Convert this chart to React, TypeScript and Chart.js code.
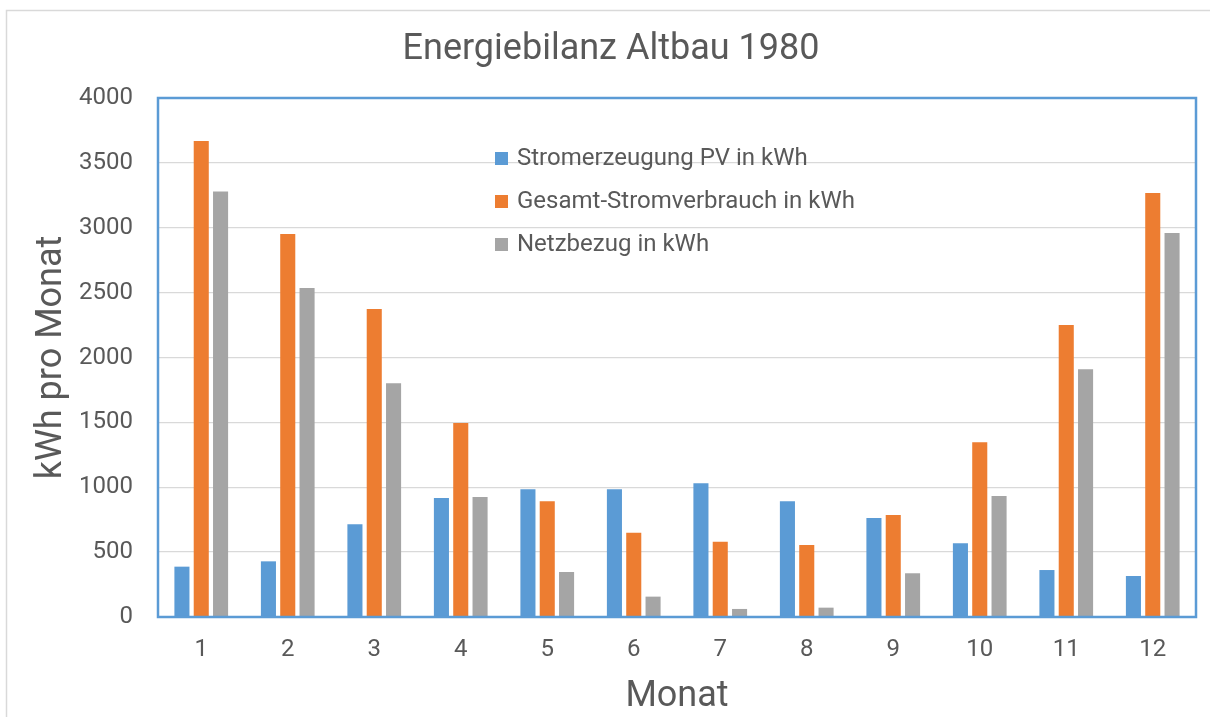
import React, { useEffect, useRef } from "react";
import { Chart, registerables } from "chart.js";

Chart.register(...registerables);

const months = ["1", "2", "3", "4", "5", "6", "7", "8", "9", "10", "11", "12"];
const pvGeneration = [388, 429, 714, 917, 985, 985, 1030, 892, 763, 568, 362, 316];
const totalConsumption = [3669, 2952, 2374, 1495, 892, 650, 580, 555, 786, 1346, 2250, 3268];
const gridPurchase = [3280, 2536, 1801, 925, 347, 157, 62, 72, 337, 932, 1909, 2960];
const seriesLabels = [
  "Stromerzeugung PV in kWh",
  "Gesamt-Stromverbrauch in kWh",
  "Netzbezug in kWh",
];
const seriesColors = ["#5b9bd5", "#ed7d31", "#a5a5a5"];
const chartTitle = "Energiebilanz Altbau 1980";
const yTitle = "kWh pro Monat";
const xTitle = "Monat";

const FONT = "Roboto, 'Open Sans', sans-serif";
const TEXT = "#595959";

const framePlugin = {
  id: "frameAndLegend",
  beforeDraw(chart: any) {
    const ctx = chart.ctx;
    ctx.save();
    ctx.fillStyle = "#ffffff";
    ctx.fillRect(0, 0, chart.width, chart.height);
    ctx.strokeStyle = "#d9d9d9";
    ctx.lineWidth = 1.5;
    ctx.strokeRect(6.5, 10.5, chart.width + 50, chart.height + 50);
    ctx.restore();
  },
  afterDatasetsDraw(chart: any) {
    const ctx = chart.ctx;
    const a = chart.chartArea;
    ctx.save();
    // plot-area frame
    ctx.strokeStyle = "#5b9bd5";
    ctx.lineWidth = 2.5;
    ctx.strokeRect(a.left, a.top, a.right - a.left, a.bottom - a.top);
    // legend inside plot area
    const x0 = a.left + 337;
    const base0 = a.top + 67;
    ctx.font = `24px ${FONT}`;
    ctx.textBaseline = "alphabetic";
    ctx.textAlign = "left";
    chart.data.datasets.forEach((ds: any, i: number) => {
      const by = base0 + i * 43;
      ctx.fillStyle = ds.backgroundColor;
      ctx.fillRect(x0, by - 13, 13, 13);
      ctx.fillStyle = TEXT;
      ctx.fillText(ds.label, x0 + 22, by);
    });
    ctx.restore();
  },
};

export default function App() {
  const ref = useRef<HTMLCanvasElement | null>(null);
  useEffect(() => {
    document.body.style.margin = "0";
    const canvas = ref.current!;
    const series = [pvGeneration, totalConsumption, gridPurchase];
    const chart = new Chart(canvas, {
      type: "bar",
      data: {
        labels: months,
        datasets: series.map((d, i) => ({
          label: seriesLabels[i],
          data: d,
          backgroundColor: seriesColors[i],
          borderWidth: 0,
          categoryPercentage: 0.67,
          barPercentage: 0.78,
        })),
      },
      options: {
        responsive: false,
        animation: false,
        layout: { padding: { left: 26, right: 14, top: 0, bottom: 0 } },
        plugins: {
          legend: { display: false },
          tooltip: { enabled: false },
          title: {
            display: true,
            text: chartTitle,
            color: TEXT,
            font: { family: FONT, size: 36, weight: "normal", lineHeight: 1.2 },
            padding: { top: 28, bottom: 26.8 },
          },
        },
        scales: {
          x: {
            grid: { display: false, drawTicks: false },
            border: { display: false },
            ticks: {
              color: TEXT,
              font: { family: FONT, size: 24, lineHeight: 1.2 },
              padding: 19,
            },
            title: {
              display: true,
              text: xTitle,
              color: TEXT,
              font: { family: FONT, size: 36, lineHeight: 1 },
              padding: { top: 0, bottom: 2 },
            },
            afterFit(scale: any) {
              scale.height = 100;
            },
          },
          y: {
            min: 0,
            max: 4000,
            grid: { color: "#d9d9d9", lineWidth: 1.3, drawTicks: false },
            border: { display: false },
            ticks: {
              stepSize: 500,
              color: TEXT,
              font: { family: FONT, size: 24 },
              padding: 25,
              callback: (v: any) => String(v),
            },
            title: {
              display: true,
              text: yTitle,
              color: TEXT,
              font: { family: FONT, size: 36, lineHeight: 1 },
              padding: { top: 8, bottom: 0 },
            },
            afterFit(scale: any) {
              scale.width = 132;
            },
          },
        },
      },
      plugins: [framePlugin],
    } as any);
    return () => chart.destroy();
  }, []);
  return <canvas ref={ref} width={1210} height={717} style={{ display: "block" }} />;
}
